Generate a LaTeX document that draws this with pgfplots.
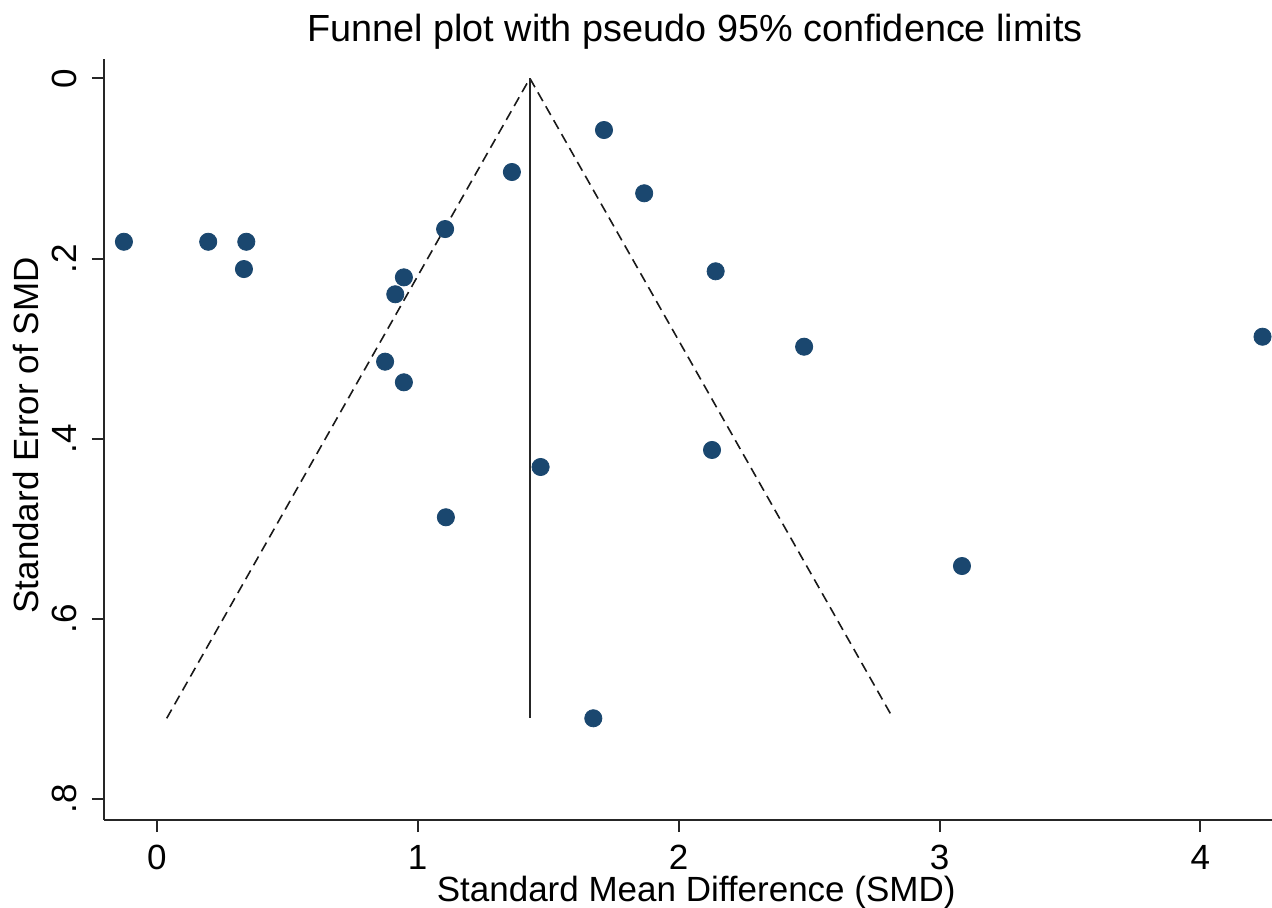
\documentclass[border=0pt]{standalone}
\usepackage{fontspec}
\setmainfont{Liberation Sans}
\usepackage{pgfplots}
\pgfplotsset{compat=1.18}
\definecolor{stnavy}{HTML}{1A476F}
\begin{document}
\begin{tikzpicture}
\begin{axis}[
  at={(0,0)}, anchor=south west,
  scale only axis, width=584pt, height=380.35pt,
  xmin=-0.2024, xmax=4.2744, ymin=-0.0211, ymax=0.8232, y dir=reverse,
  axis x line=bottom, axis y line=left,
  axis line style={-, line width=1pt, black!85},
  xtick={0,1,2,3,4}, xticklabels={0,1,2,3,4},
  ytick={0,0.2,0.4,0.6,0.8}, yticklabels={0,.2,.4,.6,.8},
  tick align=outside, major tick length=6pt,
  tick style={line width=1pt, black!85},
  xticklabel style={anchor=north, inner sep=0pt, font=\fontsize{17.5}{20}\selectfont},
  yticklabel style={rotate=90, anchor=south, inner sep=0pt, font=\fontsize{17.5}{20}\selectfont},
  xticklabel shift=6.3pt, yticklabel shift=7.5pt,
  title={Funnel plot with pseudo 95\% confidence limits},
  title style={at={(axis description cs:0.506,1.0076)}, anchor=base, inner sep=0pt, font=\fontsize{18.9}{22}\selectfont},
  xlabel={Standard Mean Difference (SMD)},
  xlabel style={at={(axis description cs:0.507,-0.1068)}, anchor=base, inner sep=0pt, font=\fontsize{17.5}{20}\selectfont},
  ylabel={Standard Error of SMD},
  ylabel style={at={(axis description cs:-0.0565,0.5055)}, anchor=base, inner sep=0pt, font=\fontsize{17.5}{20}\selectfont},
  clip=false,
]
% pseudo 95% confidence limits
\addplot[black!90, line width=0.8pt, dash pattern=on 5pt off 3pt] coordinates {(0.038,0.7103) (1.430,0) (2.822,0.7103)};
% pooled estimate
\addplot[black!85, line width=1pt] coordinates {(1.430,0) (1.430,0.7103)};
% studies
\addplot[only marks, mark=*, mark size=4.3pt, mark options={fill=stnavy, draw=stnavy}] coordinates {
(-0.126,0.1814) (0.197,0.1814) (0.343,0.1814) (0.334,0.2117)
(1.105,0.1673) (1.361,0.104) (1.714,0.0574) (1.868,0.1276)
(0.947,0.2209) (0.914,0.2397) (0.875,0.3145) (0.947,0.3374)
(2.142,0.2142) (2.481,0.2979) (4.238,0.2868) (2.128,0.4125)
(1.471,0.4314) (1.108,0.4872) (3.086,0.5413) (1.673,0.7103)
};
\end{axis}
\pgfresetboundingbox
\useasboundingbox (-52pt,-44pt) rectangle (584pt,410pt);
\end{tikzpicture}
\end{document}
